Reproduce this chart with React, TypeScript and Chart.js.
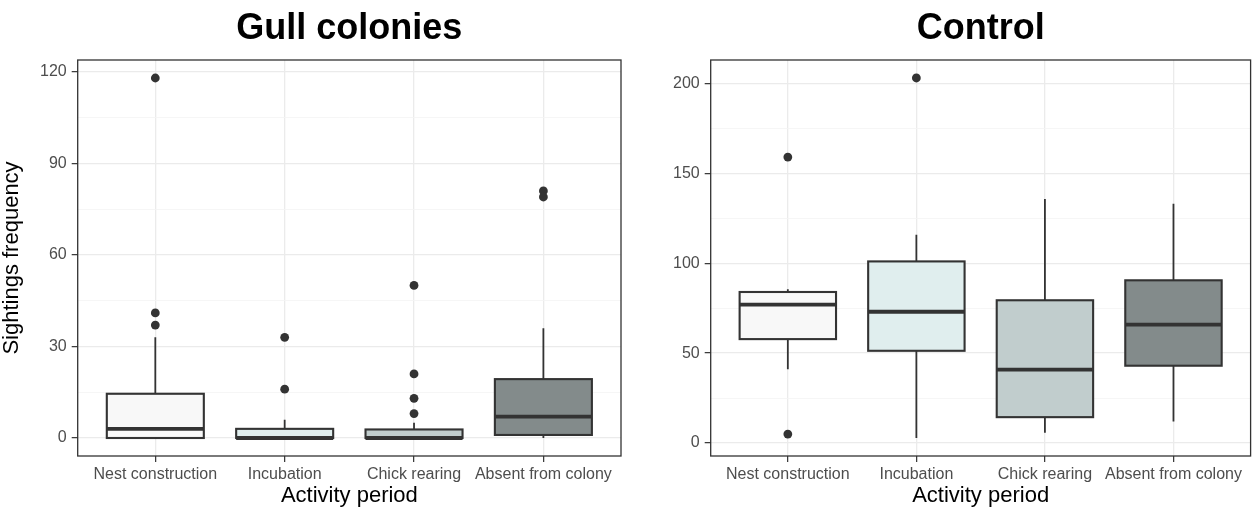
import React, { useEffect, useRef } from "react";
import { Chart, registerables } from "chart.js";

Chart.register(...registerables);

// ---------- data ----------
const categories = ["Nest construction", "Incubation", "Chick rearing", "Absent from colony"];
const fillColors = ["#F8F8F8", "#E0EEEE", "#C1CDCD", "#838B8B"];

const gullMin = [0, 0, 0, 0];
const gullQ1 = [0, 0, 0, 1];
const gullMedian = [3, 0, 0, 7];
const gullQ3 = [14.5, 3, 2.8, 19.3];
const gullMax = [33, 6, 5, 36];
const gullOutliers = [[118, 41, 37], [33, 16], [50, 21, 13, 8], [81, 79]];
const gullMajorTicks = [0, 30, 60, 90, 120];
const gullMinorTicks = [15, 45, 75, 105];
const gullRange = [-5.9, 123.9];

const controlMin = [41, 2.8, 5.7, 12];
const controlQ1 = [57.8, 51.3, 14.4, 43];
const controlMedian = [77, 73, 40.8, 65.9];
const controlQ3 = [84, 101, 79.4, 90.5];
const controlMax = [85.5, 115.8, 135.7, 133];
const controlOutliers = [[159, 5], [203], [], []];
const controlMajorTicks = [0, 50, 100, 150, 200];
const controlMinorTicks = [25, 75, 125, 175];
const controlRange = [-7.2, 213];

const FONT = "'Liberation Sans', Arial, Helvetica, sans-serif";
Chart.defaults.font.family = FONT;

const boxPlugin = {
  id: "boxes",
  beforeDatasetsDraw(chart: any, _args: any, opts: any) {
    const { ctx, chartArea, scales } = chart;
    const x = scales.x;
    const y = scales.y;
    ctx.save();
    ctx.beginPath();
    ctx.rect(chartArea.left, chartArea.top, chartArea.right - chartArea.left, chartArea.bottom - chartArea.top);
    ctx.clip();
    const n = opts.median.length;
    for (let i = 0; i < n; i++) {
      const cx = x.getPixelForValue(i + 1);
      const xl = x.getPixelForValue(i + 1 - 0.375);
      const xr = x.getPixelForValue(i + 1 + 0.375);
      const yMin = y.getPixelForValue(opts.min[i]);
      const yQ1 = y.getPixelForValue(opts.q1[i]);
      const yMed = y.getPixelForValue(opts.median[i]);
      const yQ3 = y.getPixelForValue(opts.q3[i]);
      const yMax = y.getPixelForValue(opts.max[i]);
      ctx.strokeStyle = "#333333";
      ctx.lineWidth = 1.8;
      ctx.beginPath();
      ctx.moveTo(cx, yQ3);
      ctx.lineTo(cx, yMax);
      ctx.moveTo(cx, yQ1);
      ctx.lineTo(cx, yMin);
      ctx.stroke();
      ctx.fillStyle = opts.fills[i];
      ctx.fillRect(xl, yQ3, xr - xl, yQ1 - yQ3);
      ctx.lineWidth = 2.1;
      ctx.strokeRect(xl, yQ3, xr - xl, yQ1 - yQ3);
      ctx.lineWidth = 3.8;
      ctx.beginPath();
      ctx.moveTo(xl, yMed);
      ctx.lineTo(xr, yMed);
      ctx.stroke();
    }
    ctx.restore();
  },
  afterDraw(chart: any) {
    const { ctx, chartArea } = chart;
    ctx.save();
    ctx.strokeStyle = "#333333";
    ctx.lineWidth = 1.3;
    ctx.strokeRect(chartArea.left, chartArea.top, chartArea.right - chartArea.left, chartArea.bottom - chartArea.top);
    ctx.restore();
  },
};

interface PanelProps {
  title: string;
  min: number[];
  q1: number[];
  median: number[];
  q3: number[];
  max: number[];
  outliers: number[][];
  majors: number[];
  minors: number[];
  range: number[];
  yTitle: string | null;
  left: number;
  width: number;
  yWidth: number;
  padRight: number;
}

function Panel(p: PanelProps) {
  const ref = useRef<HTMLCanvasElement>(null);
  useEffect(() => {
    const points: { x: number; y: number }[] = [];
    p.outliers.forEach((arr, i) => arr.forEach((v) => points.push({ x: i + 1, y: v })));
    const allTicks = [...p.majors, ...p.minors].sort((a, b) => a - b);
    const isMajor = (v: number) => p.majors.includes(v);
    const chart = new Chart(ref.current as HTMLCanvasElement, {
      type: "scatter",
      data: {
        datasets: [
          {
            data: points,
            pointRadius: 4.4,
            pointHoverRadius: 4.4,
            backgroundColor: "#333333",
            borderWidth: 0,
          },
        ],
      },
      plugins: [boxPlugin],
      options: {
        animation: false,
        responsive: false,
        events: [],
        layout: { padding: { left: 0, right: p.padRight, top: 0, bottom: 0 } },
        plugins: {
          legend: { display: false },
          tooltip: { enabled: false },
          title: {
            display: true,
            text: p.title,
            fullSize: false,
            color: "#000000",
            font: { size: 36, weight: "bold", family: FONT, lineHeight: 1.2 },
            padding: { top: 7.5, bottom: 9.3 },
          },
          boxes: {
            min: p.min,
            q1: p.q1,
            median: p.median,
            q3: p.q3,
            max: p.max,
            fills: fillColors,
          },
        } as any,
        scales: {
          x: {
            type: "linear",
            min: 0.4,
            max: 4.6,
            afterBuildTicks: (scale: any) => {
              scale.ticks = categories.map((_c, i) => ({ value: i + 1 }));
            },
            afterFit: (scale: any) => {
              scale.height = 53;
            },
            border: { display: false },
            grid: {
              color: "#EBEBEB",
              lineWidth: 1.3,
              tickColor: "#333333",
              tickLength: 6,
              tickWidth: 1.2,
            },
            ticks: {
              autoSkip: false,
              maxRotation: 0,
              padding: 3,
              color: "#4D4D4D",
              font: { size: 16, family: FONT },
              callback: (v: any) => categories[Math.round(Number(v)) - 1] ?? "",
            },
            title: {
              display: true,
              text: "Activity period",
              color: "#000000",
              font: { size: 22, family: FONT, lineHeight: 1.2 },
              padding: { top: 0, bottom: 0 },
            },
          },
          y: {
            type: "linear",
            min: p.range[0],
            max: p.range[1],
            afterBuildTicks: (scale: any) => {
              scale.ticks = allTicks.map((v) => ({ value: v }));
            },
            afterFit: (scale: any) => {
              scale.width = p.yWidth;
            },
            border: { display: false },
            grid: {
              color: (ctx: any) => (isMajor(ctx.tick?.value) ? "#EBEBEB" : "#F4F4F4"),
              lineWidth: (ctx: any) => (isMajor(ctx.tick?.value) ? 1.3 : 0.8),
              tickColor: (ctx: any) => (isMajor(ctx.tick?.value) ? "#333333" : "rgba(0,0,0,0)"),
              tickLength: 6,
              tickWidth: 1.2,
            },
            ticks: {
              autoSkip: false,
              padding: 5,
              color: "#4D4D4D",
              font: { size: 16, family: FONT },
              callback: (v: any) => (isMajor(Number(v)) ? String(v) : ""),
            },
            title: {
              display: !!p.yTitle,
              text: p.yTitle ?? "",
              color: "#000000",
              font: { size: 22, family: FONT, lineHeight: 1.05 },
              padding: { top: 0, bottom: 0 },
            },
          },
        },
      } as any,
    });
    return () => chart.destroy();
  }, []);
  return (
    <canvas
      ref={ref}
      width={p.width}
      height={509}
      style={{ position: "absolute", left: p.left, top: 0, width: p.width, height: 509 }}
    />
  );
}

export default function App() {
  return (
    <div style={{ position: "fixed", left: 0, top: 0, width: 1255, height: 509, background: "#FFFFFF", overflow: "hidden" }}>
      <Panel
        title="Gull colonies"
        min={gullMin}
        q1={gullQ1}
        median={gullMedian}
        q3={gullQ3}
        max={gullMax}
        outliers={gullOutliers}
        majors={gullMajorTicks}
        minors={gullMinorTicks}
        range={gullRange}
        yTitle="Sightings frequency"
        left={0}
        width={630}
        yWidth={77.7}
        padRight={9}
      />
      <Panel
        title="Control"
        min={controlMin}
        q1={controlQ1}
        median={controlMedian}
        q3={controlQ3}
        max={controlMax}
        outliers={controlOutliers}
        majors={controlMajorTicks}
        minors={controlMinorTicks}
        range={controlRange}
        yTitle={null}
        left={630}
        width={625}
        yWidth={80.7}
        padRight={1}
      />
    </div>
  );
}
